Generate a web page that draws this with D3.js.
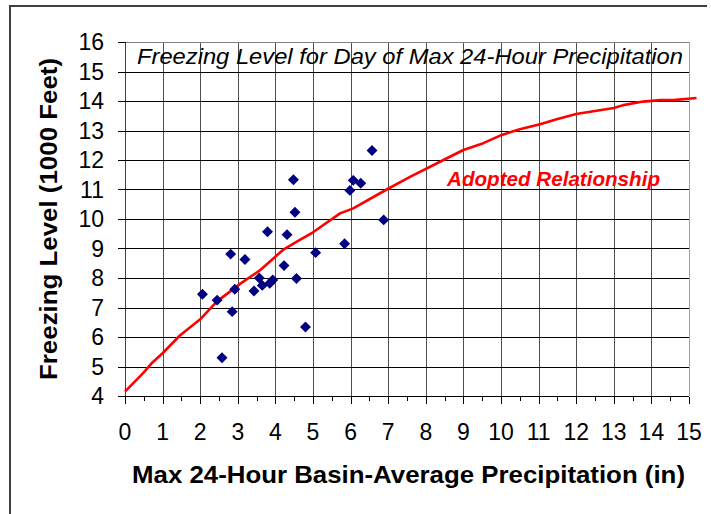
<!DOCTYPE html>
<html>
<head>
<meta charset="utf-8">
<script src="https://cdn.jsdelivr.net/npm/d3@7"></script>
<style>
  body { margin: 0; background: #fff; }
  svg { display: block; font-family: "Liberation Sans", Arial, sans-serif; }
</style>
</head>
<body>
<div id="chart"></div>
<script>
// observed storms: max 24-hour basin-average precipitation (in) vs freezing level (1000 ft)
const precip = [2.06, 2.45, 2.58, 2.81, 2.85, 2.92, 3.19, 3.43, 3.57, 3.65, 3.79, 3.85, 3.93,
  4.23, 4.31, 4.48, 4.52, 4.56, 4.80, 5.07, 5.84, 5.98, 6.07, 6.27, 6.57, 6.88];
const freezing = [7.45, 7.25, 5.30, 8.81, 6.86, 7.62, 8.63, 7.56, 8.00, 7.75, 9.57, 7.82, 7.93,
  8.42, 9.47, 11.33, 10.23, 7.98, 6.34, 8.86, 9.16, 10.97, 11.31, 11.21, 12.32, 9.97];

// adopted relationship curve
const curveX = [0, 0.5, 0.7, 1.0, 1.46, 2.0, 2.44, 3.06, 3.6, 4.2, 4.57, 5.0, 5.72, 6.07, 6.96,
  7.58, 8.47, 9.0, 9.53, 10.02, 10.5, 11.04, 11.48, 12.0, 12.54, 13.0, 13.25, 13.78, 14.23, 14.58, 15.2];
const curveY = [4.15, 4.8, 5.1, 5.45, 6.05, 6.6, 7.2, 7.8, 8.27, 8.95, 9.23, 9.55, 10.19, 10.36, 11.0,
  11.43, 12.0, 12.34, 12.57, 12.85, 13.04, 13.21, 13.38, 13.56, 13.67, 13.76, 13.86, 13.98, 14.03, 14.03, 14.1];

const xTicks = d3.range(0, 16, 1);
const xMinorTicks = d3.range(0.5, 15, 1);
const yTicks = d3.range(4, 17, 1);

const width = 711;
const height = 514;
const margin = { top: 42, right: 22, bottom: 118, left: 125 };

const svg = d3.select("#chart")
  .append("svg")
  .attr("width", width)
  .attr("height", height);

// outer frame (only top and left edges are visible in the crop)
svg.append("path")
  .attr("d", "M10,514V6H707")
  .attr("fill", "none")
  .attr("stroke", "#404040")
  .attr("stroke-width", 2);

const x = d3.scaleLinear()
  .domain([0, 15])
  .range([margin.left, width - margin.right]);

const y = d3.scaleLinear()
  .domain([4, 16])
  .range([height - margin.bottom, margin.top]);

// grid
const grid = svg.append("g").attr("class", "grid").attr("shape-rendering", "crispEdges");

grid.selectAll(".vgrid")
  .data(xTicks.filter((d) => d > 0))
  .join("line")
  .attr("class", "vgrid")
  .attr("x1", (d) => Math.round(x(d)) + 0.5)
  .attr("x2", (d) => Math.round(x(d)) + 0.5)
  .attr("y1", y(16))
  .attr("y2", y(4))
  .attr("stroke", (d) => (d === 15 ? "#a0a0a0" : "#505050"));

grid.selectAll(".hgrid")
  .data(yTicks.filter((d) => d > 4))
  .join("line")
  .attr("class", "hgrid")
  .attr("x1", x(0))
  .attr("x2", x(15))
  .attr("y1", (d) => Math.round(y(d)) + 0.5)
  .attr("y2", (d) => Math.round(y(d)) + 0.5)
  .attr("stroke", (d) => (d === 16 ? "#808080" : "#000"));

// x axis
const xAxis = svg.append("g")
  .attr("transform", `translate(0,${Math.round(y(4)) + 0.5})`)
  .attr("shape-rendering", "crispEdges");

xAxis.append("line")
  .attr("x1", x(0))
  .attr("x2", x(15))
  .attr("stroke", "#000");

xAxis.selectAll(".major")
  .data(xTicks)
  .join("line")
  .attr("class", "major")
  .attr("x1", (d) => Math.round(x(d)) + 0.5)
  .attr("x2", (d) => Math.round(x(d)) + 0.5)
  .attr("y2", 7)
  .attr("stroke", "#000");

xAxis.selectAll(".minor")
  .data(xMinorTicks)
  .join("line")
  .attr("class", "minor")
  .attr("x1", (d) => Math.round(x(d)) + 0.5)
  .attr("x2", (d) => Math.round(x(d)) + 0.5)
  .attr("y2", 4)
  .attr("stroke", "#000");

svg.append("g")
  .selectAll("text")
  .data(xTicks)
  .join("text")
  .attr("x", (d) => x(d))
  .attr("y", 440)
  .attr("text-anchor", "middle")
  .attr("font-size", 23)
  .attr("fill", "#000")
  .text((d) => d);

// y axis
const yAxis = svg.append("g")
  .attr("transform", `translate(${Math.round(x(0)) + 0.5},0)`)
  .attr("shape-rendering", "crispEdges");

yAxis.append("line")
  .attr("y1", y(4))
  .attr("y2", y(16))
  .attr("stroke", "#404040");

yAxis.selectAll(".major")
  .data(yTicks)
  .join("line")
  .attr("class", "major")
  .attr("y1", (d) => Math.round(y(d)) + 0.5)
  .attr("y2", (d) => Math.round(y(d)) + 0.5)
  .attr("x1", -8)
  .attr("stroke", "#000");

svg.append("g")
  .selectAll("text")
  .data(yTicks)
  .join("text")
  .attr("x", 104)
  .attr("y", (d) => y(d))
  .attr("dy", "0.36em")
  .attr("text-anchor", "end")
  .attr("font-size", 23)
  .attr("fill", "#000")
  .text((d) => d);

// adopted relationship
const line = d3.line()
  .x((d, i) => x(curveX[i]))
  .y((d, i) => y(curveY[i]));

svg.append("path")
  .datum(curveX)
  .attr("d", line)
  .attr("fill", "none")
  .attr("stroke", "#ff0000")
  .attr("stroke-width", 2.6)
  .attr("stroke-linejoin", "round");

// points
const diamond = d3.symbol(d3.symbolSquare, 60);

svg.append("g")
  .selectAll("path")
  .data(precip)
  .join("path")
  .attr("d", diamond)
  .attr("transform", (d, i) => `translate(${x(d)},${y(freezing[i])}) rotate(45)`)
  .attr("fill", "#000080");

// texts
svg.append("text")
  .attr("x", 137)
  .attr("y", 63.5)
  .attr("font-size", 22)
  .attr("font-style", "italic")
  .attr("textLength", 546)
  .attr("lengthAdjust", "spacingAndGlyphs")
  .attr("fill", "#000")
  .text("Freezing Level for Day of Max 24-Hour Precipitation");

svg.append("text")
  .attr("x", 447)
  .attr("y", 186)
  .attr("font-size", 21)
  .attr("font-weight", "bold")
  .attr("font-style", "italic")
  .attr("textLength", 213)
  .attr("lengthAdjust", "spacingAndGlyphs")
  .attr("fill", "#ff0000")
  .text("Adopted Relationship");

svg.append("text")
  .attr("x", 132)
  .attr("y", 483)
  .attr("font-size", 24)
  .attr("font-weight", "bold")
  .attr("textLength", 553)
  .attr("lengthAdjust", "spacingAndGlyphs")
  .attr("fill", "#000")
  .text("Max 24-Hour Basin-Average Precipitation (in)");

svg.append("text")
  .attr("transform", "translate(57,380) rotate(-90)")
  .attr("font-size", 24)
  .attr("font-weight", "bold")
  .attr("textLength", 322)
  .attr("lengthAdjust", "spacingAndGlyphs")
  .attr("fill", "#000")
  .text("Freezing Level (1000 Feet)");
</script>
</body>
</html>
